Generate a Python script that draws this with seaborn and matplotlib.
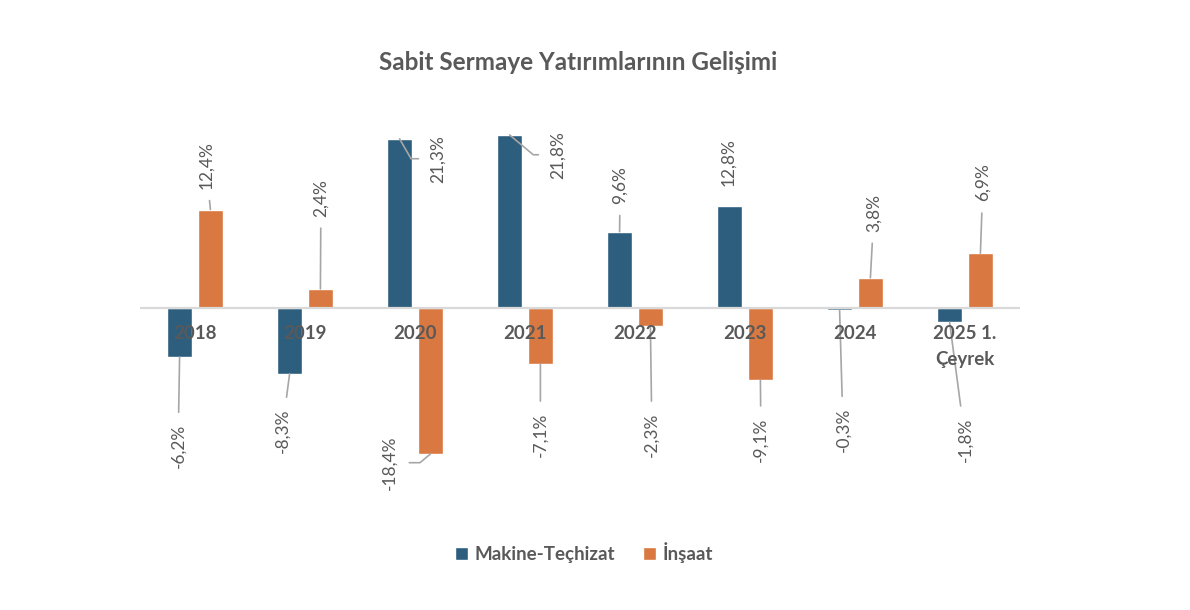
import matplotlib
matplotlib.use("Agg")
import matplotlib.pyplot as plt
import seaborn as sns
import pandas as pd

# ---- data ----
categories = ["2018", "2019", "2020", "2021", "2022", "2023", "2024", "2025 1.\nÇeyrek"]
makine = [-6.2, -8.3, 21.3, 21.8, 9.6, 12.8, -0.3, -1.8]
insaat = [12.4, 2.4, -18.4, -7.1, -2.3, -9.1, 3.8, 6.9]
series_names = ["Makine-Teçhizat", "İnşaat"]
colors = ["#2E5E7E", "#D97840"]
title = "Sabit Sermaye Yatırımlarının Gelişimi"

# ---- label layout: (dx from bar centre in category units, text-centre y in data units,
#      leader line, elbow angle of leader at the bar end or None) ----
makine_label_layout = [(-0.014, -17.4, True, None), (-0.068, -15.5, True, None),
                       (0.35, 18.8, True, -60), (0.44, 19.3, True, -40),
                       (0.005, 15.5, True, None), (-0.014, 18.4, False, None),
                       (0.032, -15.4, True, None), (0.141, -16.6, True, None)]
insaat_label_layout = [(-0.04, 18.0, True, None), (0.005, 13.9, True, None),
                       (-0.37, -19.5, True, 40), (0.0, -16.0, True, None),
                       (0.014, -16.0, True, None), (0.005, -16.6, True, None),
                       (0.032, 12.0, True, None), (0.023, 15.8, True, None)]

sns.set_theme(style="white")
plt.rcParams["font.family"] = ["Lato", "DejaVu Sans"]

TXT = "#595959"
LEAD = "#A6A6A6"

df = pd.DataFrame({
    "Kategori": categories * 2,
    "Seri": [series_names[0]] * len(categories) + [series_names[1]] * len(categories),
    "Değer": makine + insaat,
})

fig = plt.figure(figsize=(11.9, 6.1), dpi=100)
ax = fig.add_axes([140 / 1190, 1 - 500 / 610, 880 / 1190, 400 / 610])

sns.barplot(data=df, x="Kategori", y="Değer", hue="Seri", order=categories,
            hue_order=series_names, palette=colors, width=0.56, gap=0.19,
            saturation=1, errorbar=None, ax=ax)

ax.set_xlim(-0.5, len(categories) - 0.5)
ax.set_ylim(-24.2, 26.2)
ax.set_axis_off()
ax.axhline(0, color="#D9D9D9", lw=1.6, zorder=3)

handles, labels = ax.get_legend_handles_labels()
if ax.get_legend() is not None:
    ax.get_legend().remove()

layouts = [makine_label_layout, insaat_label_layout]
values = [makine, insaat]
for s, cont in enumerate(ax.containers):
    for i, bar in enumerate(cont):
        v = values[s][i]
        bx = bar.get_x() + bar.get_width() / 2
        dx, ty, lead, elbow = layouts[s][i]
        lab = f"{v:.1f}%".replace(".", ",")
        ap = None
        if lead:
            ap = dict(arrowstyle="-", color=LEAD, lw=1.2, shrinkA=6, shrinkB=0)
            if elbow is not None:
                ap["connectionstyle"] = f"angle,angleA=0,angleB={elbow},rad=0"
        ax.annotate(lab, xy=(bx, v), xytext=(bx + dx, ty), textcoords="data",
                    rotation=90, ha="center", va="center", fontsize=12.5,
                    color=TXT, arrowprops=ap, zorder=4, annotation_clip=False)

for i, cat in enumerate(categories):
    ax.text(i, -2.2, cat, ha="center", va="top", fontsize=13.5, fontweight="bold",
            color=TXT, linespacing=1.65, zorder=5)

fig.text(578 / 1190, 1 - 62 / 610, title, ha="center", va="center",
         fontsize=17.5, fontweight="bold", color=TXT)

fig.legend(handles, labels, loc="center", bbox_to_anchor=(584 / 1190, 1 - 553 / 610),
           ncol=2, frameon=False, prop=dict(weight="bold", size=13.5),
           labelcolor=TXT, handlelength=0.7, handleheight=0.7,
           handletextpad=0.35, columnspacing=1.5)

fig.savefig("out.png", dpi=100)
